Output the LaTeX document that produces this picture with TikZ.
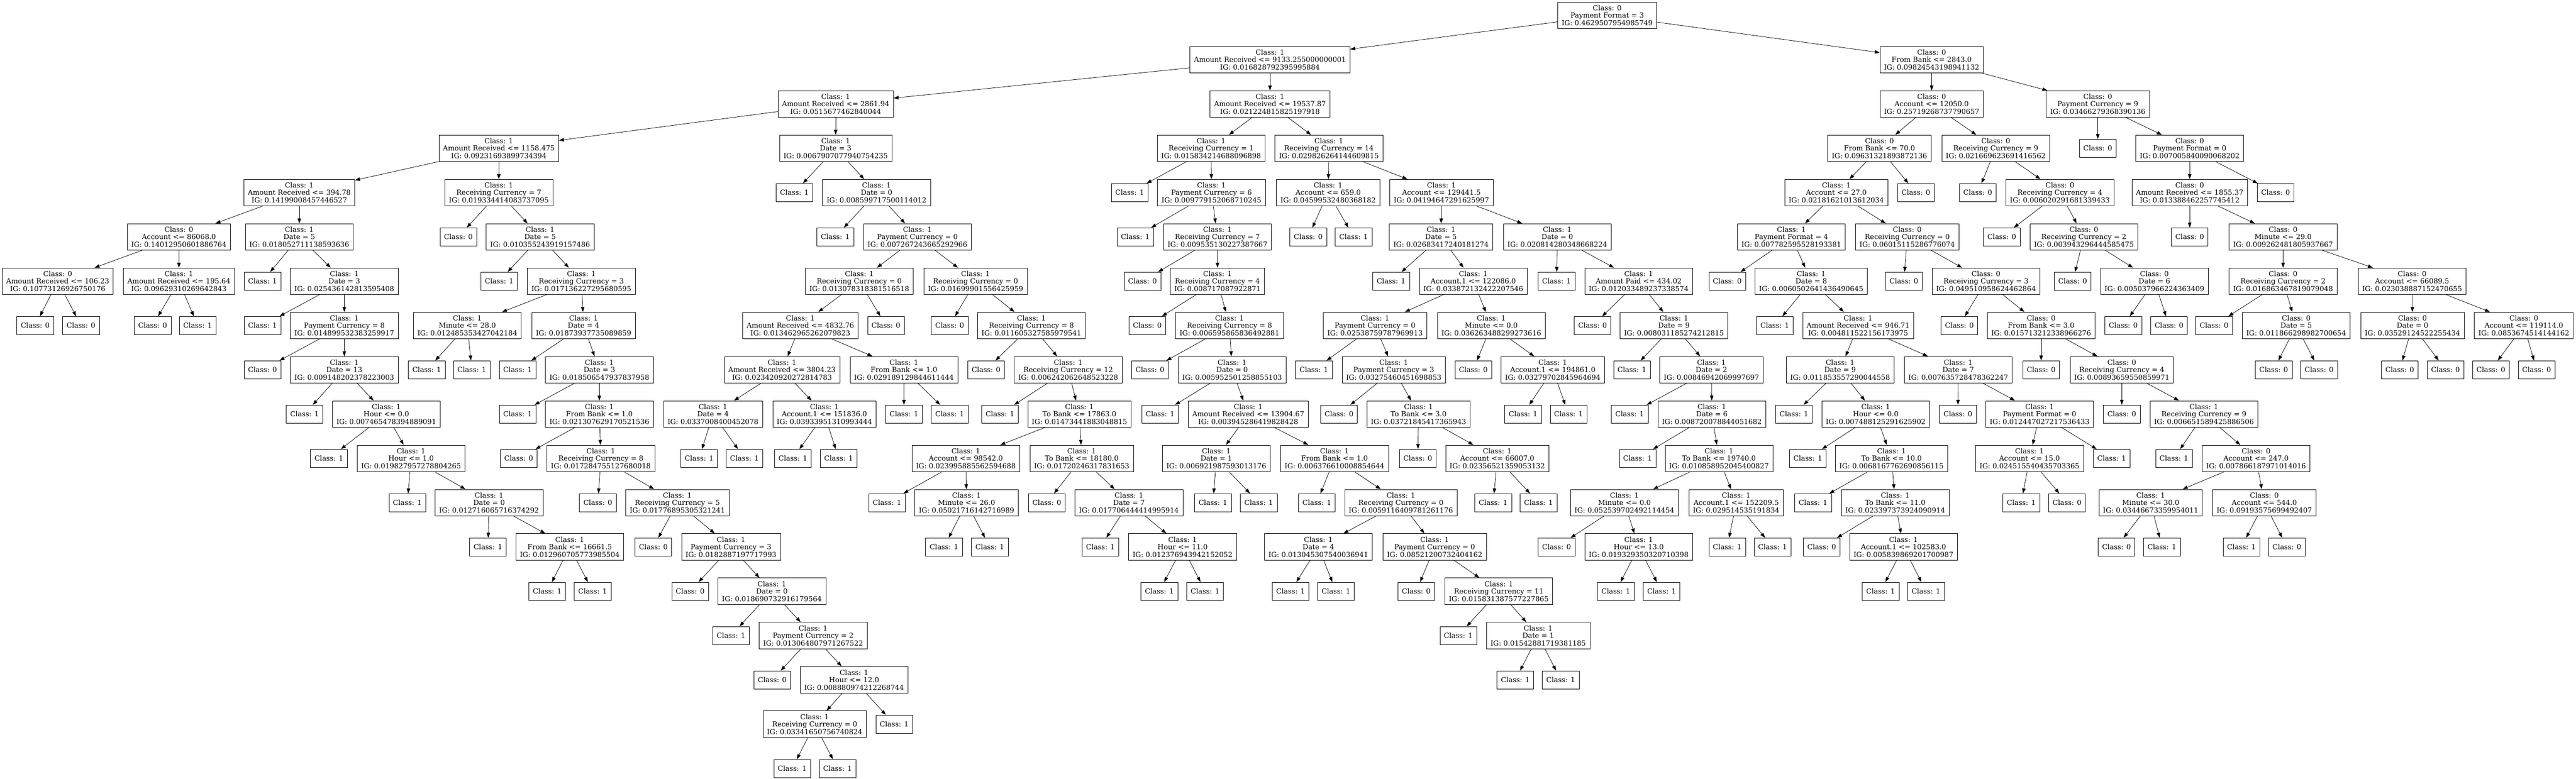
\documentclass[tikz,border=0pt]{standalone}
\usepackage{fontspec}
\setmainfont{DejaVu Serif}
\usetikzlibrary{arrows.meta}
\newcommand{\treefont}{\fontsize{14pt}{15pt}\selectfont}
\begin{document}
\begin{tikzpicture}[x=0.75pt, y=-88.575pt,
    splitnode/.style={draw, rectangle, align=center, font=\treefont, inner xsep=8pt, inner ysep=3pt, minimum height=53pt, line width=0.8pt},
    leafnode/.style={draw, rectangle, font=\treefont, inner xsep=8pt, minimum width=54pt, minimum height=36pt, line width=0.8pt},
    link/.style={-{Triangle[length=10pt,width=7pt]}, line width=0.8pt}]
    \useasboundingbox (0,-0.3472) rectangle (6868,17.2312);
    % Draw the root and the upper splits.
    \node[splitnode] (d0n1) at (4285,0) {Class: 0\\Payment Format = 3\\IG: 0.4629507954985749};
    \node[splitnode] (d1n1) at (3386,1) {Class: 1\\Amount Received <= 9133.255000000001\\IG: 0.016828792395995884};
    \node[splitnode] (d1n2) at (5150,1) {Class: 0\\From Bank <= 2843.0\\IG: 0.09824543198941132};
    \node[splitnode] (d2n1) at (2228,2) {Class: 1\\Amount Received <= 2861.94\\IG: 0.0515677462840044};
    \node[splitnode] (d2n2) at (3386,2) {Class: 1\\Amount Received <= 19537.87\\IG: 0.021224815825197918};
    \node[splitnode] (d2n3) at (5150,2) {Class: 0\\Account <= 12050.0\\IG: 0.25719268737790657};
    \node[splitnode] (d2n4) at (5593,2) {Class: 0\\Payment Currency = 9\\IG: 0.03466279368390136};
    \node[splitnode] (d3n1) at (1330,3) {Class: 1\\Amount Received <= 1158.475\\IG: 0.09231693899734394};
    \node[splitnode] (d3n2) at (2228,3) {Class: 1\\Date = 3\\IG: 0.0067907077940754235};
    \node[splitnode] (d3n3) at (3229,3) {Class: 1\\Receiving Currency = 1\\IG: 0.015834214688096898};
    \node[splitnode] (d3n4) at (3543,3) {Class: 1\\Receiving Currency = 14\\IG: 0.029826264144609815};
    \node[splitnode] (d3n5) at (5011,3) {Class: 0\\From Bank <= 70.0\\IG: 0.09631321893872136};
    \node[splitnode] (d3n6) at (5321,3) {Class: 0\\Receiving Currency = 9\\IG: 0.021669623691416562};
    \node[leafnode] (d3n7) at (5593,3) {Class: 0};
    \node[splitnode] (d3n8) at (5838,3) {Class: 0\\Payment Format = 0\\IG: 0.007005840090068202};
    % Level 4.
    \node[splitnode] (d4n1) at (798,4) {Class: 1\\Amount Received <= 394.78\\IG: 0.14199008457446527};
    \node[splitnode] (d4n2) at (1330,4) {Class: 1\\Receiving Currency = 7\\IG: 0.019334414083737095};
    \node[leafnode] (d4n3) at (2118,4) {Class: 1};
    \node[splitnode] (d4n4) at (2337,4) {Class: 1\\Date = 0\\IG: 0.008599717500114012};
    \node[leafnode] (d4n5) at (3012,4) {Class: 1};
    \node[splitnode] (d4n6) at (3230,4) {Class: 1\\Payment Currency = 6\\IG: 0.009779152068710245};
    \node[splitnode] (d4n7) at (3541,4) {Class: 1\\Account <= 659.0\\IG: 0.04599532480368182};
    \node[splitnode] (d4n8) at (3843,4) {Class: 1\\Account <= 129441.5\\IG: 0.04194647291625997};
    \node[splitnode] (d4n9) at (4896,4) {Class: 1\\Account <= 27.0\\IG: 0.02181621013612034};
    \node[leafnode] (d4n10) at (5108,4) {Class: 0};
    \node[leafnode] (d4n11) at (5273,4) {Class: 0};
    \node[splitnode] (d4n12) at (5492,4) {Class: 0\\Receiving Currency = 4\\IG: 0.006020291681339433};
    \node[splitnode] (d4n13) at (5838,4) {Class: 0\\Amount Received <= 1855.37\\IG: 0.013388462257745412};
    \node[leafnode] (d4n14) at (6067,4) {Class: 0};
    % Level 5.
    \node[splitnode] (d5n1) at (477,5) {Class: 0\\Account <= 86068.0\\IG: 0.14012950601886764};
    \node[splitnode] (d5n2) at (798,5) {Class: 1\\Date = 5\\IG: 0.018052711138593636};
    \node[leafnode] (d5n3) at (1222,5) {Class: 0};
    \node[splitnode] (d5n4) at (1440,5) {Class: 1\\Date = 5\\IG: 0.010355243919157486};
    \node[leafnode] (d5n5) at (2227,5) {Class: 1};
    \node[splitnode] (d5n6) at (2446,5) {Class: 1\\Payment Currency = 0\\IG: 0.007267243665292966};
    \node[leafnode] (d5n7) at (3027,5) {Class: 1};
    \node[splitnode] (d5n8) at (3246,5) {Class: 1\\Receiving Currency = 7\\IG: 0.009535130227387667};
    \node[leafnode] (d5n9) at (3488,5) {Class: 0};
    \node[leafnode] (d5n10) at (3609,5) {Class: 1};
    \node[splitnode] (d5n11) at (3842,5) {Class: 1\\Date = 5\\IG: 0.02683417240181274};
    \node[splitnode] (d5n12) at (4152,5) {Class: 1\\Date = 0\\IG: 0.020814280348668224};
    \node[splitnode] (d5n13) at (4776,5) {Class: 1\\Payment Format = 4\\IG: 0.007782595528193381};
    \node[splitnode] (d5n14) at (5085,5) {Class: 0\\Receiving Currency = 0\\IG: 0.06015115286776074};
    \node[leafnode] (d5n15) at (5337,5) {Class: 0};
    \node[splitnode] (d5n16) at (5556,5) {Class: 0\\Receiving Currency = 2\\IG: 0.003943296444585475};
    \node[leafnode] (d5n17) at (5838,5) {Class: 0};
    \node[splitnode] (d5n18) at (6087,5) {Class: 0\\Minute <= 29.0\\IG: 0.009262481805937667};
    % Level 6.
    \node[splitnode] (d6n1) at (154,6) {Class: 0\\Amount Received <= 106.23\\IG: 0.10773126926750176};
    \node[splitnode] (d6n2) at (477,6) {Class: 1\\Amount Received <= 195.64\\IG: 0.09629310269642843};
    \node[leafnode] (d6n3) at (700,6) {Class: 1};
    \node[splitnode] (d6n4) at (918,6) {Class: 1\\Date = 3\\IG: 0.025436142813595408};
    \node[leafnode] (d6n5) at (1331,6) {Class: 1};
    \node[splitnode] (d6n6) at (1550,6) {Class: 1\\Receiving Currency = 3\\IG: 0.017136227295680595};
    \node[splitnode] (d6n7) at (2291,6) {Class: 1\\Receiving Currency = 0\\IG: 0.013078318381516518};
    \node[splitnode] (d6n8) at (2601,6) {Class: 1\\Receiving Currency = 0\\IG: 0.01699901556425959};
    \node[leafnode] (d6n9) at (3046,6) {Class: 0};
    \node[splitnode] (d6n10) at (3246,6) {Class: 1\\Receiving Currency = 4\\IG: 0.008717087922871};
    \node[leafnode] (d6n11) at (3709,6) {Class: 1};
    \node[splitnode] (d6n12) at (3928,6) {Class: 1\\Account.1 <= 122086.0\\IG: 0.033872132422207546};
    \node[leafnode] (d6n13) at (4150,6) {Class: 1};
    \node[splitnode] (d6n14) at (4369,6) {Class: 1\\Amount Paid <= 434.02\\IG: 0.012033489237338574};
    \node[leafnode] (d6n15) at (4605,6) {Class: 0};
    \node[splitnode] (d6n16) at (4829,6) {Class: 1\\Date = 8\\IG: 0.0060502641436490645};
    \node[leafnode] (d6n17) at (5076,6) {Class: 0};
    \node[splitnode] (d6n18) at (5295,6) {Class: 0\\Receiving Currency = 3\\IG: 0.049510958624462864};
    \node[leafnode] (d6n19) at (5526,6) {Class: 0};
    \node[splitnode] (d6n20) at (5744,6) {Class: 0\\Date = 6\\IG: 0.005037966224363409};
    \node[splitnode] (d6n21) at (6087,6) {Class: 0\\Receiving Currency = 2\\IG: 0.016863467819079048};
    \node[splitnode] (d6n22) at (6431,6) {Class: 0\\Account <= 66089.5\\IG: 0.023038887152470655};
    % Level 7.
    \node[leafnode] (d7n1) at (94,7) {Class: 0};
    \node[leafnode] (d7n2) at (216,7) {Class: 0};
    \node[leafnode] (d7n3) at (407,7) {Class: 0};
    \node[leafnode] (d7n4) at (527,7) {Class: 1};
    \node[leafnode] (d7n5) at (700,7) {Class: 1};
    \node[splitnode] (d7n6) at (918,7) {Class: 1\\Payment Currency = 8\\IG: 0.014899532383259917};
    \node[splitnode] (d7n7) at (1246,7) {Class: 1\\Minute <= 28.0\\IG: 0.012485353427042184};
    \node[splitnode] (d7n8) at (1556,7) {Class: 1\\Date = 4\\IG: 0.01873937735089859};
    \node[splitnode] (d7n9) at (2134,7) {Class: 1\\Amount Received <= 4832.76\\IG: 0.013462965262079823};
    \node[leafnode] (d7n10) at (2362,7) {Class: 0};
    \node[leafnode] (d7n11) at (2532,7) {Class: 0};
    \node[splitnode] (d7n12) at (2750,7) {Class: 1\\Receiving Currency = 8\\IG: 0.011605327585979541};
    \node[leafnode] (d7n13) at (3059,7) {Class: 0};
    \node[splitnode] (d7n14) at (3278,7) {Class: 1\\Receiving Currency = 8\\IG: 0.006595865836492881};
    \node[splitnode] (d7n15) at (3666,7) {Class: 1\\Payment Currency = 0\\IG: 0.02538759787969913};
    \node[splitnode] (d7n16) at (3976,7) {Class: 1\\Minute <= 0.0\\IG: 0.036263488299273616};
    \node[leafnode] (d7n17) at (4246,7) {Class: 0};
    \node[splitnode] (d7n18) at (4463,7) {Class: 1\\Date = 9\\IG: 0.008031185274212815};
    \node[leafnode] (d7n19) at (4732,7) {Class: 1};
    \node[splitnode] (d7n20) at (4954,7) {Class: 1\\Amount Received <= 946.71\\IG: 0.004811522156173975};
    \node[leafnode] (d7n21) at (5224,7) {Class: 0};
    \node[splitnode] (d7n22) at (5442,7) {Class: 0\\From Bank <= 3.0\\IG: 0.015713212338966276};
    \node[leafnode] (d7n23) at (5661,7) {Class: 0};
    \node[leafnode] (d7n24) at (5783,7) {Class: 0};
    \node[leafnode] (d7n25) at (5903,7) {Class: 0};
    \node[splitnode] (d7n26) at (6122,7) {Class: 0\\Date = 5\\IG: 0.011866298982700654};
    \node[splitnode] (d7n27) at (6432,7) {Class: 0\\Date = 0\\IG: 0.03529124522255434};
    \node[splitnode] (d7n28) at (6729,7) {Class: 0\\Account <= 119114.0\\IG: 0.0853674514144162};
    % Level 8.
    \node[leafnode] (d8n1) at (700,8) {Class: 0};
    \node[splitnode] (d8n2) at (918,8) {Class: 1\\Date = 13\\IG: 0.009148202378223003};
    \node[leafnode] (d8n3) at (1138,8) {Class: 1};
    \node[leafnode] (d8n4) at (1258,8) {Class: 1};
    \node[leafnode] (d8n5) at (1380,8) {Class: 1};
    \node[splitnode] (d8n6) at (1598,8) {Class: 1\\Date = 3\\IG: 0.018506547937837958};
    \node[splitnode] (d8n7) at (2085,8) {Class: 1\\Amount Received <= 3804.23\\IG: 0.023420920272814783};
    \node[splitnode] (d8n8) at (2410,8) {Class: 1\\From Bank <= 1.0\\IG: 0.029189129844611444};
    \node[leafnode] (d8n9) at (2629,8) {Class: 0};
    \node[splitnode] (d8n10) at (2848,8) {Class: 1\\Receiving Currency = 12\\IG: 0.006242062648523228};
    \node[leafnode] (d8n11) at (3066,8) {Class: 0};
    \node[splitnode] (d8n12) at (3285,8) {Class: 1\\Date = 0\\IG: 0.005952501258855103};
    \node[leafnode] (d8n13) at (3503,8) {Class: 1};
    \node[splitnode] (d8n14) at (3716,8) {Class: 1\\Payment Currency = 3\\IG: 0.03275460451698853};
    \node[leafnode] (d8n15) at (3928,8) {Class: 0};
    \node[splitnode] (d8n16) at (4140,8) {Class: 1\\Account.1 <= 194861.0\\IG: 0.03279702845964694};
    \node[leafnode] (d8n17) at (4351,8) {Class: 1};
    \node[splitnode] (d8n18) at (4563,8) {Class: 1\\Date = 2\\IG: 0.00846942069997697};
    \node[splitnode] (d8n19) at (4906,8) {Class: 1\\Date = 9\\IG: 0.011853557290044558};
    \node[splitnode] (d8n20) at (5221,8) {Class: 1\\Date = 7\\IG: 0.007635728478362247};
    \node[leafnode] (d8n21) at (5442,8) {Class: 0};
    \node[splitnode] (d8n22) at (5657,8) {Class: 0\\Receiving Currency = 4\\IG: 0.00893659550859971};
    \node[leafnode] (d8n23) at (6062,8) {Class: 0};
    \node[leafnode] (d8n24) at (6183,8) {Class: 0};
    \node[leafnode] (d8n25) at (6398,8) {Class: 0};
    \node[leafnode] (d8n26) at (6520,8) {Class: 0};
    \node[leafnode] (d8n27) at (6641,8) {Class: 0};
    \node[leafnode] (d8n28) at (6763,8) {Class: 0};
    % Level 9.
    \node[leafnode] (d9n1) at (812,9) {Class: 1};
    \node[splitnode] (d9n2) at (1030,9) {Class: 1\\Hour <= 0.0\\IG: 0.007465478394889091};
    \node[leafnode] (d9n3) at (1380,9) {Class: 1};
    \node[splitnode] (d9n4) at (1598,9) {Class: 1\\From Bank <= 1.0\\IG: 0.021307629170521536};
    \node[splitnode] (d9n5) at (1901,9) {Class: 1\\Date = 4\\IG: 0.0337008400452078};
    \node[splitnode] (d9n6) at (2198,9) {Class: 1\\Account.1 <= 151836.0\\IG: 0.03933951310993444};
    \node[leafnode] (d9n7) at (2410,9) {Class: 1};
    \node[leafnode] (d9n8) at (2532,9) {Class: 1};
    \node[leafnode] (d9n9) at (2666,9) {Class: 1};
    \node[splitnode] (d9n10) at (2878,9) {Class: 1\\To Bank <= 17863.0\\IG: 0.01473441883048815};
    \node[leafnode] (d9n11) at (3093,9) {Class: 1};
    \node[splitnode] (d9n12) at (3328,9) {Class: 1\\Amount Received <= 13904.67\\IG: 0.003945286419828428};
    \node[leafnode] (d9n13) at (3570,9) {Class: 0};
    \node[splitnode] (d9n14) at (3782,9) {Class: 1\\To Bank <= 3.0\\IG: 0.03721845417365943};
    \node[leafnode] (d9n15) at (4061,9) {Class: 1};
    \node[leafnode] (d9n16) at (4182,9) {Class: 1};
    \node[leafnode] (d9n17) at (4345,9) {Class: 1};
    \node[splitnode] (d9n18) at (4564,9) {Class: 1\\Date = 6\\IG: 0.008720078844051682};
    \node[leafnode] (d9n19) at (4783,9) {Class: 1};
    \node[splitnode] (d9n20) at (5001,9) {Class: 1\\Hour <= 0.0\\IG: 0.007488125291625902};
    \node[leafnode] (d9n21) at (5220,9) {Class: 0};
    \node[splitnode] (d9n22) at (5438,9) {Class: 1\\Payment Format = 0\\IG: 0.012447027217536433};
    \node[leafnode] (d9n23) at (5657,9) {Class: 0};
    \node[splitnode] (d9n24) at (5876,9) {Class: 1\\Receiving Currency = 9\\IG: 0.006651589425886506};
    % Level 10.
    \node[leafnode] (d10n1) at (877,10) {Class: 1};
    \node[splitnode] (d10n2) at (1096,10) {Class: 1\\Hour <= 1.0\\IG: 0.019827957278804265};
    \node[leafnode] (d10n3) at (1383,10) {Class: 0};
    \node[splitnode] (d10n4) at (1602,10) {Class: 1\\Receiving Currency = 8\\IG: 0.017284755127680018};
    \node[leafnode] (d10n5) at (1864,10) {Class: 1};
    \node[leafnode] (d10n6) at (1985,10) {Class: 1};
    \node[leafnode] (d10n7) at (2114,10) {Class: 1};
    \node[leafnode] (d10n8) at (2236,10) {Class: 1};
    \node[splitnode] (d10n9) at (2575,10) {Class: 1\\Account <= 98542.0\\IG: 0.023995885562594688};
    \node[splitnode] (d10n10) at (2884,10) {Class: 1\\To Bank <= 18180.0\\IG: 0.01720246317831653};
    \node[splitnode] (d10n11) at (3243,10) {Class: 1\\Date = 1\\IG: 0.006921987593013176};
    \node[splitnode] (d10n12) at (3558,10) {Class: 1\\From Bank <= 1.0\\IG: 0.006376610008854644};
    \node[leafnode] (d10n13) at (3780,10) {Class: 0};
    \node[splitnode] (d10n14) at (3992,10) {Class: 1\\Account <= 66007.0\\IG: 0.02356521359053132};
    \node[leafnode] (d10n15) at (4366,10) {Class: 1};
    \node[splitnode] (d10n16) at (4583,10) {Class: 1\\To Bank <= 19740.0\\IG: 0.010858952045400827};
    \node[leafnode] (d10n17) at (4820,10) {Class: 1};
    \node[splitnode] (d10n18) at (5043,10) {Class: 1\\To Bank <= 10.0\\IG: 0.0068167762690856115};
    \node[splitnode] (d10n19) at (5411,10) {Class: 1\\Account <= 15.0\\IG: 0.024515540435703365};
    \node[leafnode] (d10n20) at (5630,10) {Class: 1};
    \node[leafnode] (d10n21) at (5796,10) {Class: 1};
    \node[splitnode] (d10n22) at (6015,10) {Class: 0\\Account <= 247.0\\IG: 0.007866187971014016};
    % Level 11.
    \node[leafnode] (d11n1) at (1086,11) {Class: 1};
    \node[splitnode] (d11n2) at (1304,11) {Class: 1\\Date = 0\\IG: 0.012716065716374292};
    \node[leafnode] (d11n3) at (1594,11) {Class: 0};
    \node[splitnode] (d11n4) at (1806,11) {Class: 1\\Receiving Currency = 5\\IG: 0.01776895305321241};
    \node[leafnode] (d11n5) at (2365,11) {Class: 1};
    \node[splitnode] (d11n6) at (2577,11) {Class: 1\\Minute <= 26.0\\IG: 0.05021716142716989};
    \node[leafnode] (d11n7) at (2791,11) {Class: 0};
    \node[splitnode] (d11n8) at (3010,11) {Class: 1\\Date = 7\\IG: 0.017706444414995914};
    \node[leafnode] (d11n9) at (3234,11) {Class: 1};
    \node[leafnode] (d11n10) at (3356,11) {Class: 1};
    \node[leafnode] (d11n11) at (3511,11) {Class: 1};
    \node[splitnode] (d11n12) at (3735,11) {Class: 1\\Receiving Currency = 0\\IG: 0.0059116409781261176};
    \node[leafnode] (d11n13) at (3981,11) {Class: 1};
    \node[leafnode] (d11n14) at (4102,11) {Class: 1};
    \node[splitnode] (d11n15) at (4331,11) {Class: 1\\Minute <= 0.0\\IG: 0.052539702492114454};
    \node[splitnode] (d11n16) at (4629,11) {Class: 1\\Account.1 <= 152209.5\\IG: 0.029514535191834};
    \node[leafnode] (d11n17) at (4834,11) {Class: 1};
    \node[splitnode] (d11n18) at (5053,11) {Class: 1\\To Bank <= 11.0\\IG: 0.023397373924090914};
    \node[leafnode] (d11n19) at (5389,11) {Class: 1};
    \node[leafnode] (d11n20) at (5511,11) {Class: 0};
    \node[splitnode] (d11n21) at (5734,11) {Class: 1\\Minute <= 30.0\\IG: 0.03446673359954011};
    \node[splitnode] (d11n22) at (6037,11) {Class: 0\\Account <= 544.0\\IG: 0.09193575699492407};
    % Level 12.
    \node[leafnode] (d12n1) at (1301,12) {Class: 1};
    \node[splitnode] (d12n2) at (1519,12) {Class: 1\\From Bank <= 16661.5\\IG: 0.012960705773985504};
    \node[leafnode] (d12n3) at (1742,12) {Class: 0};
    \node[splitnode] (d12n4) at (1949,12) {Class: 1\\Payment Currency = 3\\IG: 0.0182887197717993};
    \node[leafnode] (d12n5) at (2517,12) {Class: 1};
    \node[leafnode] (d12n6) at (2639,12) {Class: 1};
    \node[leafnode] (d12n7) at (2934,12) {Class: 1};
    \node[splitnode] (d12n8) at (3153,12) {Class: 1\\Hour <= 11.0\\IG: 0.012376943942152052};
    \node[splitnode] (d12n9) at (3515,12) {Class: 1\\Date = 4\\IG: 0.013045307540036941};
    \node[splitnode] (d12n10) at (3825,12) {Class: 1\\Payment Currency = 0\\IG: 0.08521200732404162};
    \node[leafnode] (d12n11) at (4150,12) {Class: 0};
    \node[splitnode] (d12n12) at (4369,12) {Class: 1\\Hour <= 13.0\\IG: 0.019329350320710398};
    \node[leafnode] (d12n13) at (4605,12) {Class: 1};
    \node[leafnode] (d12n14) at (4726,12) {Class: 1};
    \node[leafnode] (d12n15) at (4857,12) {Class: 0};
    \node[splitnode] (d12n16) at (5075,12) {Class: 1\\Account.1 <= 102583.0\\IG: 0.005839869201700987};
    \node[leafnode] (d12n17) at (5643,12) {Class: 0};
    \node[leafnode] (d12n18) at (5764,12) {Class: 1};
    \node[leafnode] (d12n19) at (5976,12) {Class: 1};
    \node[leafnode] (d12n20) at (6097,12) {Class: 0};
    % Level 13 and below.
    \node[leafnode] (d13n1) at (1459,13) {Class: 1};
    \node[leafnode] (d13n2) at (1580,13) {Class: 1};
    \node[leafnode] (d13n3) at (1840,13) {Class: 0};
    \node[splitnode] (d13n4) at (2058,13) {Class: 1\\Date = 0\\IG: 0.018690732916179564};
    \node[leafnode] (d13n5) at (3091,13) {Class: 1};
    \node[leafnode] (d13n6) at (3213,13) {Class: 1};
    \node[leafnode] (d13n7) at (3441,13) {Class: 1};
    \node[leafnode] (d13n8) at (3562,13) {Class: 1};
    \node[leafnode] (d13n9) at (3776,13) {Class: 0};
    \node[splitnode] (d13n10) at (3996,13) {Class: 1\\Receiving Currency = 11\\IG: 0.015831387577227865};
    \node[leafnode] (d13n11) at (4308,13) {Class: 1};
    \node[leafnode] (d13n12) at (4430,13) {Class: 1};
    \node[leafnode] (d13n13) at (5014,13) {Class: 1};
    \node[leafnode] (d13n14) at (5135,13) {Class: 1};
    \node[leafnode] (d14n1) at (1949,14) {Class: 1};
    \node[splitnode] (d14n2) at (2168,14) {Class: 1\\Payment Currency = 2\\IG: 0.013064807971267522};
    \node[leafnode] (d14n3) at (3888,14) {Class: 1};
    \node[splitnode] (d14n4) at (4101,14) {Class: 1\\Date = 1\\IG: 0.01542881719381185};
    \node[leafnode] (d15n1) at (2059,15) {Class: 0};
    \node[splitnode] (d15n2) at (2277,15) {Class: 1\\Hour <= 12.0\\IG: 0.008880974212268744};
    \node[leafnode] (d15n3) at (4040,15) {Class: 1};
    \node[leafnode] (d15n4) at (4161,15) {Class: 1};
    \node[splitnode] (d16n1) at (2172,16) {Class: 1\\Receiving Currency = 0\\IG: 0.03341650756740824};
    \node[leafnode] (d16n2) at (2384,16) {Class: 1};
    \node[leafnode] (d17n1) at (2112,17) {Class: 1};
    \node[leafnode] (d17n2) at (2233,17) {Class: 1};
    % Draw the edges from each split to its two children.
    \draw[link] (d0n1) -- (d1n1); \draw[link] (d0n1) -- (d1n2);
    \draw[link] (d1n1) -- (d2n1); \draw[link] (d1n1) -- (d2n2);
    \draw[link] (d1n2) -- (d2n3); \draw[link] (d1n2) -- (d2n4);
    \draw[link] (d2n1) -- (d3n1); \draw[link] (d2n1) -- (d3n2);
    \draw[link] (d2n2) -- (d3n3); \draw[link] (d2n2) -- (d3n4);
    \draw[link] (d2n3) -- (d3n5); \draw[link] (d2n3) -- (d3n6);
    \draw[link] (d2n4) -- (d3n7); \draw[link] (d2n4) -- (d3n8);
    \draw[link] (d3n1) -- (d4n1); \draw[link] (d3n1) -- (d4n2);
    \draw[link] (d3n2) -- (d4n3); \draw[link] (d3n2) -- (d4n4);
    \draw[link] (d3n3) -- (d4n5); \draw[link] (d3n3) -- (d4n6);
    \draw[link] (d3n4) -- (d4n7); \draw[link] (d3n4) -- (d4n8);
    \draw[link] (d3n5) -- (d4n9); \draw[link] (d3n5) -- (d4n10);
    \draw[link] (d3n6) -- (d4n11); \draw[link] (d3n6) -- (d4n12);
    \draw[link] (d3n8) -- (d4n13); \draw[link] (d3n8) -- (d4n14);
    \draw[link] (d4n1) -- (d5n1); \draw[link] (d4n1) -- (d5n2);
    \draw[link] (d4n2) -- (d5n3); \draw[link] (d4n2) -- (d5n4);
    \draw[link] (d4n4) -- (d5n5); \draw[link] (d4n4) -- (d5n6);
    \draw[link] (d4n6) -- (d5n7); \draw[link] (d4n6) -- (d5n8);
    \draw[link] (d4n7) -- (d5n9); \draw[link] (d4n7) -- (d5n10);
    \draw[link] (d4n8) -- (d5n11); \draw[link] (d4n8) -- (d5n12);
    \draw[link] (d4n9) -- (d5n13); \draw[link] (d4n9) -- (d5n14);
    \draw[link] (d4n12) -- (d5n15); \draw[link] (d4n12) -- (d5n16);
    \draw[link] (d4n13) -- (d5n17); \draw[link] (d4n13) -- (d5n18);
    \draw[link] (d5n1) -- (d6n1); \draw[link] (d5n1) -- (d6n2);
    \draw[link] (d5n2) -- (d6n3); \draw[link] (d5n2) -- (d6n4);
    \draw[link] (d5n4) -- (d6n5); \draw[link] (d5n4) -- (d6n6);
    \draw[link] (d5n6) -- (d6n7); \draw[link] (d5n6) -- (d6n8);
    \draw[link] (d5n8) -- (d6n9); \draw[link] (d5n8) -- (d6n10);
    \draw[link] (d5n11) -- (d6n11); \draw[link] (d5n11) -- (d6n12);
    \draw[link] (d5n12) -- (d6n13); \draw[link] (d5n12) -- (d6n14);
    \draw[link] (d5n13) -- (d6n15); \draw[link] (d5n13) -- (d6n16);
    \draw[link] (d5n14) -- (d6n17); \draw[link] (d5n14) -- (d6n18);
    \draw[link] (d5n16) -- (d6n19); \draw[link] (d5n16) -- (d6n20);
    \draw[link] (d5n18) -- (d6n21); \draw[link] (d5n18) -- (d6n22);
    \draw[link] (d6n1) -- (d7n1); \draw[link] (d6n1) -- (d7n2);
    \draw[link] (d6n2) -- (d7n3); \draw[link] (d6n2) -- (d7n4);
    \draw[link] (d6n4) -- (d7n5); \draw[link] (d6n4) -- (d7n6);
    \draw[link] (d6n6) -- (d7n7); \draw[link] (d6n6) -- (d7n8);
    \draw[link] (d6n7) -- (d7n9); \draw[link] (d6n7) -- (d7n10);
    \draw[link] (d6n8) -- (d7n11); \draw[link] (d6n8) -- (d7n12);
    \draw[link] (d6n10) -- (d7n13); \draw[link] (d6n10) -- (d7n14);
    \draw[link] (d6n12) -- (d7n15); \draw[link] (d6n12) -- (d7n16);
    \draw[link] (d6n14) -- (d7n17); \draw[link] (d6n14) -- (d7n18);
    \draw[link] (d6n16) -- (d7n19); \draw[link] (d6n16) -- (d7n20);
    \draw[link] (d6n18) -- (d7n21); \draw[link] (d6n18) -- (d7n22);
    \draw[link] (d6n20) -- (d7n23); \draw[link] (d6n20) -- (d7n24);
    \draw[link] (d6n21) -- (d7n25); \draw[link] (d6n21) -- (d7n26);
    \draw[link] (d6n22) -- (d7n27); \draw[link] (d6n22) -- (d7n28);
    \draw[link] (d7n6) -- (d8n1); \draw[link] (d7n6) -- (d8n2);
    \draw[link] (d7n7) -- (d8n3); \draw[link] (d7n7) -- (d8n4);
    \draw[link] (d7n8) -- (d8n5); \draw[link] (d7n8) -- (d8n6);
    \draw[link] (d7n9) -- (d8n7); \draw[link] (d7n9) -- (d8n8);
    \draw[link] (d7n12) -- (d8n9); \draw[link] (d7n12) -- (d8n10);
    \draw[link] (d7n14) -- (d8n11); \draw[link] (d7n14) -- (d8n12);
    \draw[link] (d7n15) -- (d8n13); \draw[link] (d7n15) -- (d8n14);
    \draw[link] (d7n16) -- (d8n15); \draw[link] (d7n16) -- (d8n16);
    \draw[link] (d7n18) -- (d8n17); \draw[link] (d7n18) -- (d8n18);
    \draw[link] (d7n20) -- (d8n19); \draw[link] (d7n20) -- (d8n20);
    \draw[link] (d7n22) -- (d8n21); \draw[link] (d7n22) -- (d8n22);
    \draw[link] (d7n26) -- (d8n23); \draw[link] (d7n26) -- (d8n24);
    \draw[link] (d7n27) -- (d8n25); \draw[link] (d7n27) -- (d8n26);
    \draw[link] (d7n28) -- (d8n27); \draw[link] (d7n28) -- (d8n28);
    \draw[link] (d8n2) -- (d9n1); \draw[link] (d8n2) -- (d9n2);
    \draw[link] (d8n6) -- (d9n3); \draw[link] (d8n6) -- (d9n4);
    \draw[link] (d8n7) -- (d9n5); \draw[link] (d8n7) -- (d9n6);
    \draw[link] (d8n8) -- (d9n7); \draw[link] (d8n8) -- (d9n8);
    \draw[link] (d8n10) -- (d9n9); \draw[link] (d8n10) -- (d9n10);
    \draw[link] (d8n12) -- (d9n11); \draw[link] (d8n12) -- (d9n12);
    \draw[link] (d8n14) -- (d9n13); \draw[link] (d8n14) -- (d9n14);
    \draw[link] (d8n16) -- (d9n15); \draw[link] (d8n16) -- (d9n16);
    \draw[link] (d8n18) -- (d9n17); \draw[link] (d8n18) -- (d9n18);
    \draw[link] (d8n19) -- (d9n19); \draw[link] (d8n19) -- (d9n20);
    \draw[link] (d8n20) -- (d9n21); \draw[link] (d8n20) -- (d9n22);
    \draw[link] (d8n22) -- (d9n23); \draw[link] (d8n22) -- (d9n24);
    \draw[link] (d9n2) -- (d10n1); \draw[link] (d9n2) -- (d10n2);
    \draw[link] (d9n4) -- (d10n3); \draw[link] (d9n4) -- (d10n4);
    \draw[link] (d9n5) -- (d10n5); \draw[link] (d9n5) -- (d10n6);
    \draw[link] (d9n6) -- (d10n7); \draw[link] (d9n6) -- (d10n8);
    \draw[link] (d9n10) -- (d10n9); \draw[link] (d9n10) -- (d10n10);
    \draw[link] (d9n12) -- (d10n11); \draw[link] (d9n12) -- (d10n12);
    \draw[link] (d9n14) -- (d10n13); \draw[link] (d9n14) -- (d10n14);
    \draw[link] (d9n18) -- (d10n15); \draw[link] (d9n18) -- (d10n16);
    \draw[link] (d9n20) -- (d10n17); \draw[link] (d9n20) -- (d10n18);
    \draw[link] (d9n22) -- (d10n19); \draw[link] (d9n22) -- (d10n20);
    \draw[link] (d9n24) -- (d10n21); \draw[link] (d9n24) -- (d10n22);
    \draw[link] (d10n2) -- (d11n1); \draw[link] (d10n2) -- (d11n2);
    \draw[link] (d10n4) -- (d11n3); \draw[link] (d10n4) -- (d11n4);
    \draw[link] (d10n9) -- (d11n5); \draw[link] (d10n9) -- (d11n6);
    \draw[link] (d10n10) -- (d11n7); \draw[link] (d10n10) -- (d11n8);
    \draw[link] (d10n11) -- (d11n9); \draw[link] (d10n11) -- (d11n10);
    \draw[link] (d10n12) -- (d11n11); \draw[link] (d10n12) -- (d11n12);
    \draw[link] (d10n14) -- (d11n13); \draw[link] (d10n14) -- (d11n14);
    \draw[link] (d10n16) -- (d11n15); \draw[link] (d10n16) -- (d11n16);
    \draw[link] (d10n18) -- (d11n17); \draw[link] (d10n18) -- (d11n18);
    \draw[link] (d10n19) -- (d11n19); \draw[link] (d10n19) -- (d11n20);
    \draw[link] (d10n22) -- (d11n21); \draw[link] (d10n22) -- (d11n22);
    \draw[link] (d11n2) -- (d12n1); \draw[link] (d11n2) -- (d12n2);
    \draw[link] (d11n4) -- (d12n3); \draw[link] (d11n4) -- (d12n4);
    \draw[link] (d11n6) -- (d12n5); \draw[link] (d11n6) -- (d12n6);
    \draw[link] (d11n8) -- (d12n7); \draw[link] (d11n8) -- (d12n8);
    \draw[link] (d11n12) -- (d12n9); \draw[link] (d11n12) -- (d12n10);
    \draw[link] (d11n15) -- (d12n11); \draw[link] (d11n15) -- (d12n12);
    \draw[link] (d11n16) -- (d12n13); \draw[link] (d11n16) -- (d12n14);
    \draw[link] (d11n18) -- (d12n15); \draw[link] (d11n18) -- (d12n16);
    \draw[link] (d11n21) -- (d12n17); \draw[link] (d11n21) -- (d12n18);
    \draw[link] (d11n22) -- (d12n19); \draw[link] (d11n22) -- (d12n20);
    \draw[link] (d12n2) -- (d13n1); \draw[link] (d12n2) -- (d13n2);
    \draw[link] (d12n4) -- (d13n3); \draw[link] (d12n4) -- (d13n4);
    \draw[link] (d12n8) -- (d13n5); \draw[link] (d12n8) -- (d13n6);
    \draw[link] (d12n9) -- (d13n7); \draw[link] (d12n9) -- (d13n8);
    \draw[link] (d12n10) -- (d13n9); \draw[link] (d12n10) -- (d13n10);
    \draw[link] (d12n12) -- (d13n11); \draw[link] (d12n12) -- (d13n12);
    \draw[link] (d12n16) -- (d13n13); \draw[link] (d12n16) -- (d13n14);
    \draw[link] (d13n4) -- (d14n1); \draw[link] (d13n4) -- (d14n2);
    \draw[link] (d13n10) -- (d14n3); \draw[link] (d13n10) -- (d14n4);
    \draw[link] (d14n2) -- (d15n1); \draw[link] (d14n2) -- (d15n2);
    \draw[link] (d14n4) -- (d15n3); \draw[link] (d14n4) -- (d15n4);
    \draw[link] (d15n2) -- (d16n1); \draw[link] (d15n2) -- (d16n2);
    \draw[link] (d16n1) -- (d17n1); \draw[link] (d16n1) -- (d17n2);
\end{tikzpicture}
\end{document}
